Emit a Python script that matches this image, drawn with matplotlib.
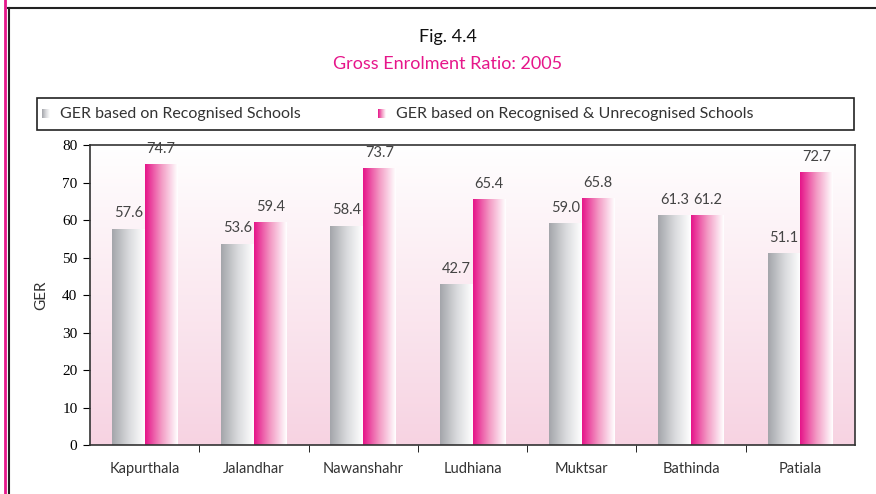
import matplotlib.pyplot as plt
import numpy as np
from matplotlib.colors import LinearSegmentedColormap
from matplotlib.patches import Rectangle
from matplotlib.lines import Line2D

districts = ["Kapurthala", "Jalandhar", "Nawanshahr", "Ludhiana", "Muktsar", "Bathinda", "Patiala"]
ger_recognised = [57.6, 53.6, 58.4, 42.7, 59.0, 61.3, 51.1]
ger_all = [74.7, 59.4, 73.7, 65.4, 65.8, 61.2, 72.7]
legend_labels = ["GER based on Recognised Schools", "GER based on Recognised & Unrecognised Schools"]

MAGENTA = "#e6168a"
FONT = "Lato"

gray_cmap = LinearSegmentedColormap.from_list("g", ["#a4a6ab", "#d8d9dc", "#ffffff"])
pink_cmap = LinearSegmentedColormap.from_list("p", ["#e6168a", "#f39ac4", "#ffffff"])
bg_cmap = LinearSegmentedColormap.from_list("bg", ["#ffffff", "#f7d3e2"])

fig = plt.figure(figsize=(8.76, 4.94), dpi=100)

# outer frame lines
fig.add_artist(Line2D([5/876, 5/876], [0, 1], color=MAGENTA, lw=2))
fig.add_artist(Line2D([8.5/876, 8.5/876], [0, 1-8/494], color="#222222", lw=1.5))
fig.add_artist(Line2D([8/876, 1], [1-8/494, 1-8/494], color="#222222", lw=1.5))

fig.text(448/876, 1-37/494, "Fig. 4.4", ha="center", va="center", fontsize=13, family=FONT, color="#111111")
fig.text(448/876, 1-64/494, "Gross Enrolment Ratio: 2005", ha="center", va="center", fontsize=13, family=FONT, color=MAGENTA)

# legend box (drawn behind the little marker axes)
fig.add_artist(Rectangle((37/876, 1-130/494), (854-37)/876, 32/494, transform=fig.transFigure,
                         facecolor="white", edgecolor="#222222", lw=1.2, zorder=-1))
grad = np.linspace(0, 1, 64).reshape(1, -1)
for xm, cmap, xt, lab in [(42, gray_cmap, 60, legend_labels[0]), (378, pink_cmap, 396, legend_labels[1])]:
    mk = fig.add_axes([xm/876, 1-118/494, 8/876, 9/494])
    mk.imshow(grad, cmap=cmap, aspect="auto")
    mk.axis("off")
    fig.text(xt/876, 1-114/494, lab, ha="left", va="center", fontsize=11.5, family=FONT, color="#333333")

ax = fig.add_axes([90/876, 1-445/494, (855-90)/876, (445-145)/494])
ax.imshow(np.linspace(0, 1, 256).reshape(-1, 1), cmap=bg_cmap, aspect="auto",
          extent=[0, 1, 0, 1], transform=ax.transAxes, zorder=0)

x = np.arange(len(districts))
w = 0.30
b1 = ax.bar(x - w/2, ger_recognised, w, color="none", zorder=2)
b2 = ax.bar(x + w/2, ger_all, w, color="none", zorder=2)
for bars, cmap, vals in [(b1, gray_cmap, ger_recognised), (b2, pink_cmap, ger_all)]:
    for bar, v in zip(bars, vals):
        x0 = bar.get_x()
        ax.imshow(grad, cmap=cmap, aspect="auto", extent=[x0, x0 + bar.get_width(), 0, bar.get_height()], zorder=2)
        ax.text(x0 + bar.get_width()/2, v + 2.3, f"{v:.1f}", ha="center", va="bottom",
                fontsize=10.5, family=FONT, color="#444444", zorder=3)

ax.set_xlim(-0.5, len(districts) - 0.5)
ax.set_ylim(0, 80)
ax.set_yticks(range(0, 81, 10))
ax.set_yticklabels([str(v) for v in range(0, 81, 10)], family="Liberation Serif", fontsize=11)
ax.set_xticks(x)
ax.set_xticklabels(districts, family=FONT, fontsize=10.5, color="#333333")
ax.tick_params(axis="x", length=0, pad=12)
ax.set_xticks(np.arange(0.5, len(districts) - 0.5), minor=True)
ax.tick_params(axis="x", which="minor", length=5, direction="out")
ax.tick_params(axis="y", length=5, direction="out", pad=4)
ax.set_ylabel("GER", family=FONT, fontsize=11, labelpad=10, color="#333333")
for s in ax.spines.values():
    s.set_color("#333333")
    s.set_linewidth(1.2)

fig.savefig("out.png", dpi=100)
